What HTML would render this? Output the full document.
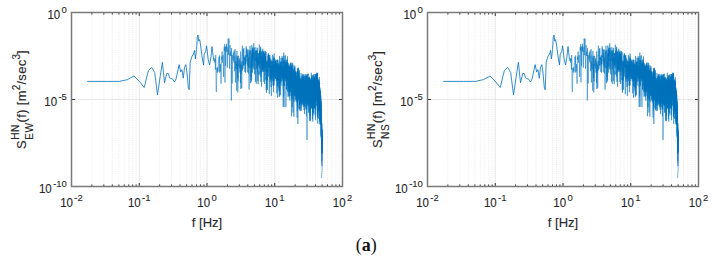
<!DOCTYPE html>
<html><head><meta charset="utf-8"><style>
html,body{margin:0;padding:0;background:#fff;width:712px;height:259px;overflow:hidden}
svg{display:block;position:absolute;left:0;top:0}
text{font-family:"Liberation Sans",sans-serif;fill:#262626;stroke:#262626;stroke-width:0.1px}
.tl{font-size:12.5px}
.ts{font-size:9.5px}
.lb{font-size:13.0px}
.gm{stroke:#d4d4d4;stroke-width:0.5;stroke-dasharray:1 1.2;fill:none}
.gM{stroke:#e0e0e0;stroke-width:0.8;fill:none}
.tk{stroke:#303030;stroke-width:1;fill:none}
.ax{fill:none;stroke:#7a7a7a;stroke-width:1.5}
</style></head><body>
<svg width="712" height="259" viewBox="0 0 712 259">
<defs><g id="curve" fill="none" stroke="#0072bd" stroke-linejoin="round"><polyline points="87.20,81.4 107.60,81.4 119.50,81.4 127.50,79.6 134.00,76.0 139.90,82.0 144.20,87.5 148.30,70.8 151.60,67.4 154.70,72.4 157.50,95.0 160.20,76.4 162.40,62.3 164.50,82.8 166.70,73.5 168.30,73.5 169.60,77.9 170.90,78.5 172.50,79.0 174.50,82.0 176.00,79.0 177.60,72.0 179.10,64.6 180.70,72.0 181.90,69.7 183.30,78.2 184.50,67.4 185.80,64.6 186.90,72.0 188.40,88.2 189.20,89.8 190.20,62.0 191.90,56.6 192.90,55.0 193.90,52.7 194.50,50.4 195.40,58.9 196.50,49.6 197.30,37.3 198.00,35.0 198.80,41.1 199.60,39.6 200.40,43.5 201.90,55.8 203.50,65.0 204.20,54.3 205.80,51.2 206.50,45.8 207.30,51.2 208.10,58.9 209.60,65.0 210.80,58.0 212.00,46.5 213.50,59.0" stroke-width="0.8"/><polyline points="213.50,59.0 213.86,61.0 214.25,58.1 214.64,62.4 215.03,58.8 215.41,69.7 215.78,55.0 216.15,91.2 216.52,92.0 216.88,67.9 217.23,72.7 217.59,67.3 217.93,71.4 218.28,63.0 218.62,61.4 218.96,56.8 219.29,72.6 219.62,55.5 219.94,66.1 220.26,71.5 220.58,64.1 220.90,82.4 221.21,83.8 221.52,56.6 221.82,59.7 222.12,51.5 222.42,62.7 222.72,61.6 223.01,55.1 223.30,60.8 223.59,76.9 223.87,57.0 224.15,47.3 224.43,50.5 224.71,44.1 224.98,82.5 225.25,46.8 225.52,65.8 225.79,62.8 226.05,46.2 226.31,51.8 226.57,43.9 226.83,49.4 227.08,47.2 227.34,67.6 227.59,49.9 227.83,51.4 228.08,39.2 228.33,38.4 228.57,55.2 228.81,46.5 229.05,38.6 229.28,59.8 229.52,68.8 229.75,52.7 229.98,47.4 230.21,45.1 230.44,55.7 230.66,51.5 230.89,56.0 231.11,54.9 231.33,100.5 231.55,48.2 231.76,56.5 231.98,57.0 232.19,83.5 232.41,55.4 232.62,55.5 232.83,55.5 233.03,60.3 233.24,53.6 233.45,52.6 233.65,57.9 233.85,62.5 234.05,50.6 234.25,57.6 234.45,56.8 234.65,71.2 234.84,65.2 235.04,49.2 235.23,57.0 235.42,82.6 235.61,61.6 235.80,69.1 235.99,55.5 236.18,65.0 236.36,63.9 236.55,70.0 236.73,90.6 236.91,51.0 237.09,69.4 237.27,58.1 237.45,78.0 237.63,55.9 237.81,92.4 237.98,64.6 238.16,81.4 238.33,76.0 238.50,59.7 238.67,55.8 238.84,66.0 239.01,60.2 239.18,62.3 239.35,68.5 239.52,58.4 239.68,59.7 239.85,72.4 240.01,66.6 240.17,63.1 240.34,63.0 240.50,82.9 240.66,51.4 240.82,89.0 240.98,61.3 241.13,61.9 241.29,73.2 241.45,66.6 241.60,64.7 241.76,88.2 241.91,58.7 242.06,55.7 242.22,56.0 242.37,45.7 242.52,70.5 242.67,69.6 242.82,61.1 242.96,68.7 243.11,61.5 243.26,49.3 243.40,54.8 243.55,65.3 243.69,63.6 243.84,48.0 243.98,65.9 244.12,60.4 244.27,56.6 244.41,59.7 244.55,59.9 244.69,57.6 244.83,71.9 244.96,65.2 245.10,59.0 245.24,64.3 245.38,55.4 245.51,72.7 245.65,60.6 245.78,64.1 245.92,55.5 246.05,61.6 246.18,46.3 246.31,56.8 246.45,48.6 246.58,52.0 246.71,55.0 246.84,54.6 246.97,60.0 247.10,64.5 247.22,66.1 247.35,72.4 247.48,49.7 247.60,59.8 247.73,65.4 247.86,54.2 247.98,60.9 248.11,56.9 248.23,49.5 248.35,67.4 248.48,57.1 248.60,73.6 248.72,62.8 248.84,59.6 248.96,65.8 249.08,89.6 249.20,64.1 249.32,51.7 249.44,53.9 249.56,60.8 249.68,68.1 249.79,50.3 249.91,53.9 250.03,45.8 250.14,61.8 250.26,50.2 250.37,78.2 250.49,79.9 250.60,83.2 250.72,78.0 250.83,62.0 250.94,77.0 251.06,52.5 251.17,81.8 251.28,61.0 251.39,67.5 251.50,54.7 251.61,80.3 251.72,57.8 251.83,45.3 251.94,52.4 252.05,60.7 252.16,49.6 252.27,55.8 252.37,66.4 252.48,48.9 252.59,72.6 252.69,49.4 252.80,47.7 252.91,53.0 253.01,60.8 253.12,47.6 253.22,68.9 253.33,58.8 253.43,50.3 253.53,55.8 253.64,56.9 253.74,43.3 253.84,57.4 253.94,66.4 254.04,58.9 254.15,52.4 254.25,69.7 254.35,52.4 254.45,47.6 254.55,56.7 254.65,74.2 254.75,65.0 254.84,61.7 254.94,57.9 255.04,60.4 255.14,50.6 255.24,55.7 255.33,65.5 255.43,81.8 255.53,63.9 255.62,63.8 255.72,51.0 255.82,61.3 255.91,47.2 256.01,54.5 256.10,52.8 256.20,50.4 256.29,83.9 256.38,54.5 256.48,68.9 256.57,54.8 256.66,50.4 256.76,58.5 256.85,62.4 256.94,51.5 257.03,58.2 257.12,65.0 257.22,60.0 257.31,57.8 257.40,71.5 257.49,54.6 257.58,47.9 257.67,61.4 257.76,81.1 257.85,53.2 257.93,67.0 258.02,74.6 258.11,71.3 258.20,84.1 258.29,61.5 258.38,57.5 258.46,65.6 258.55,53.2 258.64,57.4 258.72,63.2 258.81,58.4 258.90,53.5 258.98,64.0 259.07,59.7 259.15,68.2 259.24,64.4 259.32,44.6 259.41,56.8 259.49,58.8 259.58,50.6 259.66,74.5 259.74,53.0 259.83,51.5 259.91,66.8 259.99,55.1 260.08,52.7 260.16,51.9 260.24,57.3 260.32,76.6 260.41,74.6 260.49,48.5 260.57,53.8 260.65,46.8 260.73,58.6 260.81,54.0 260.89,81.8 260.97,56.2 261.05,64.8 261.13,60.5 261.21,73.4 261.29,51.2 261.37,59.6 261.45,61.5 261.53,63.6 261.61,86.6 261.69,52.2 261.76,63.9 261.84,67.4 261.92,67.8 262.00,56.1 262.07,64.8 262.15,70.1 262.23,50.5 262.31,64.0 262.38,72.0 262.46,58.1 262.53,57.6 262.61,65.9 262.69,70.1 262.76,48.7 262.84,69.3 262.91,67.1 262.99,52.6 263.06,67.8 263.14,69.8 263.21,55.4 263.28,63.8 263.36,61.7 263.43,67.4 263.51,52.1 263.58,72.0 263.65,51.6 263.73,67.0 263.80,64.5 263.87,82.0 263.94,51.7 264.02,52.4 264.09,50.7 264.16,65.1 264.23,69.4 264.30,52.8 264.38,62.6 264.45,53.5 264.52,62.7 264.59,62.3 264.66,84.0 264.73,54.2 264.80,65.0 264.87,75.6 264.94,56.5 265.01,61.0 265.08,64.7 265.15,53.4 265.22,65.1 265.29,58.8 265.36,67.6 265.43,56.2 265.50,51.0 265.57,63.6 265.63,71.5 265.70,59.9 265.77,66.4 265.84,79.2 265.91,78.0 265.97,80.1 266.04,63.3 266.11,52.1 266.18,63.1 266.24,90.1 266.31,68.7 266.38,60.9 266.44,70.9 266.51,92.9 266.58,75.9 266.64,75.8 266.71,80.8 266.77,76.5 266.84,62.3 266.91,66.5 266.97,71.4 267.04,62.8 267.10,62.1 267.17,72.5 267.23,69.0 267.30,76.1 267.36,80.2 267.43,71.6 267.49,89.7 267.55,62.1 267.62,75.7 267.68,63.4 267.75,60.4 267.81,64.5 267.87,55.4 267.94,63.9 268.00,63.7 268.06,73.4 268.13,60.9 268.19,53.4 268.25,54.1 268.31,76.7 268.38,55.8 268.44,57.8 268.50,55.1 268.56,53.5 268.62,59.5 268.69,61.3 268.75,55.2 268.81,57.8 268.87,67.1 268.93,58.3 268.99,66.9 269.05,58.8 269.11,63.5 269.18,68.0 269.24,66.8 269.30,94.1 269.36,55.3 269.42,63.9 269.48,67.4 269.54,65.1 269.60,59.6 269.66,63.8 269.72,68.4 269.78,60.9 269.84,62.2 269.89,55.2 269.95,79.7 270.01,69.6 270.07,70.6 270.13,68.0 270.19,81.9 270.25,58.0 270.31,65.0 270.36,76.5 270.42,70.4 270.48,73.7 270.54,67.3 270.60,60.3 270.65,60.2 270.71,78.3 270.77,64.7 270.83,75.5 270.88,78.3 270.94,65.8 271.00,87.0 271.06,73.3 271.11,62.0 271.17,73.1 271.23,73.5 271.28,76.6 271.34,95.9 271.40,68.5 271.45,65.6 271.51,66.8 271.56,79.6 271.62,79.2 271.68,61.4 271.73,78.4 271.79,70.9 271.84,63.0 271.90,59.5 271.95,70.2 272.01,78.7 272.06,61.0 272.12,77.2 272.17,71.4 272.23,68.3 272.28,81.0 272.34,67.9 272.39,54.9 272.45,75.8 272.50,73.9 272.55,68.1 272.61,62.7 272.66,65.5 272.72,75.4 272.77,69.9 272.82,65.7 272.88,85.4 272.93,85.0 272.98,70.5 273.04,66.9 273.09,69.2 273.14,71.4 273.20,70.3 273.25,67.0 273.30,65.8 273.35,64.3 273.41,72.2 273.46,92.2 273.51,62.9 273.56,61.8 273.62,67.5 273.67,61.5 273.72,85.7 273.77,56.5 273.82,63.1 273.88,57.9 273.93,85.2 273.98,71.7 274.03,68.8 274.08,53.5 274.13,66.4 274.18,81.1 274.24,62.2 274.29,64.8 274.34,74.1 274.39,60.3 274.44,58.2 274.49,69.2 274.54,77.7 274.59,61.8 274.64,64.0 274.69,70.2 274.74,76.2 274.79,70.1 274.84,63.9 274.89,67.3 274.94,68.4 274.99,62.1 275.04,59.2 275.09,65.1 275.14,73.1 275.19,61.0 275.24,69.4 275.29,66.4 275.34,68.5 275.39,79.0 275.44,70.2 275.49,60.8 275.53,79.1 275.58,75.9 275.63,61.6 275.68,65.5 275.73,61.9 275.78,61.6 275.83,78.9 275.87,77.1 275.92,67.8 275.97,69.5 276.02,63.3 276.07,74.5 276.11,69.9 276.16,60.0 276.21,81.4 276.26,67.1 276.31,65.7 276.35,72.3 276.40,66.2 276.45,67.2 276.50,74.7 276.54,63.2 276.59,79.1 276.64,73.7 276.68,93.3 276.73,75.4 276.78,64.9 276.83,66.6 276.87,74.3 276.92,63.6 276.97,67.2 277.01,59.9 277.06,68.0 277.10,74.2 277.15,67.1 277.20,79.9 277.24,78.3 277.29,70.2 277.34,59.5 277.38,86.3 277.43,71.6 277.47,69.4 277.52,72.0 277.56,77.3 277.61,79.6 277.66,97.7 277.70,62.2 277.75,65.0 277.79,81.0 277.84,74.7 277.88,76.9 277.93,78.3 277.97,86.2 278.02,60.0 278.06,76.3 278.11,68.7 278.15,75.9 278.20,71.8 278.24,63.5 278.29,73.3 278.33,63.8 278.37,80.6 278.42,68.8 278.46,64.3 278.51,68.2 278.55,80.4 278.60,77.3 278.64,80.2 278.68,71.3 278.73,75.5 278.77,81.4 278.81,87.7 278.86,80.0 278.90,74.1 278.95,68.3 278.99,70.8 279.03,68.8 279.08,64.9 279.12,70.4 279.16,91.6 279.21,75.8 279.25,89.8 279.29,72.6 279.33,96.8 279.38,74.2 279.42,72.6 279.46,69.1 279.51,71.7 279.55,56.0 279.59,75.7 279.63,65.5 279.68,75.9 279.72,75.7 279.76,70.0 279.80,96.1 279.85,65.3 279.89,71.9 279.93,66.4 279.97,84.2 280.01,61.3 280.06,62.9 280.10,64.3 280.14,72.4 280.18,65.3 280.22,71.7 280.26,62.5 280.31,94.8 280.35,70.8 280.39,61.9 280.43,64.9 280.47,64.5 280.51,65.1 280.55,69.6 280.60,80.4 280.64,67.2 280.68,74.8 280.72,73.2 280.76,71.9 280.80,70.9 280.84,80.8 280.88,65.7 280.92,69.1 280.96,62.6 281.00,57.9 281.05,65.1 281.09,69.7 281.13,85.8 281.17,70.9 281.21,69.0 281.25,68.2 281.29,70.1 281.33,75.3 281.37,63.9 281.41,69.2 281.45,63.0 281.49,77.2 281.53,67.6 281.57,61.7 281.61,61.7 281.65,81.8 281.69,70.8 281.73,73.1 281.77,61.6 281.81,66.7 281.84,76.0 281.88,70.1 281.92,74.3 281.96,69.5 282.00,73.6 282.04,68.0 282.08,61.4 282.12,55.9 282.16,63.8 282.20,57.8 282.24,64.7 282.28,64.2 282.31,66.1 282.35,70.2 282.39,80.5 282.43,71.5 282.47,66.6 282.51,78.8 282.55,69.7 282.58,70.8 282.62,70.7 282.66,69.3 282.70,65.1 282.74,72.4 282.78,70.8 282.81,78.5 282.85,73.0 282.89,77.5 282.93,66.2 282.97,57.9 283.00,75.6 283.04,66.0 283.08,69.0 283.12,94.4 283.16,107.1 283.19,76.7 283.23,71.6 283.27,86.8 283.31,81.1 283.34,79.9 283.38,81.1 283.42,86.0 283.46,72.9 283.49,65.8 283.53,65.0 283.57,76.8 283.61,68.9 283.64,67.2 283.68,96.7 283.72,60.6 283.75,74.8 283.79,83.2 283.83,52.6 283.86,79.1 283.90,70.9 283.94,75.5 283.97,61.0 284.01,70.8 284.05,86.8 284.08,106.8 284.12,73.7 284.16,55.8 284.19,80.3 284.23,59.8 284.27,77.8 284.30,70.4 284.34,66.7 284.38,70.0 284.41,75.1 284.45,66.5 284.48,74.4 284.52,65.6 284.56,86.0 284.59,81.6 284.63,70.4 284.66,70.5 284.70,63.2 284.73,72.8 284.77,69.3 284.81,70.5 284.84,66.1 284.88,66.2 284.91,70.2 284.95,63.6 284.98,60.1 285.02,76.6 285.05,75.9 285.09,76.4 285.13,77.2 285.16,76.7 285.20,69.9 285.23,64.8 285.27,77.2 285.30,67.3 285.34,74.6 285.37,55.3 285.41,68.8 285.44,65.4 285.48,81.3 285.51,78.8 285.55,68.3 285.58,77.7 285.62,70.7 285.65,61.9 285.68,77.5 285.72,78.9 285.75,69.1 285.79,72.9 285.82,65.8 285.86,71.9 285.89,82.3 285.93,107.1 285.96,68.1 285.99,77.9 286.03,70.0 286.06,78.6 286.10,68.3 286.13,63.7 286.17,63.6 286.20,62.4 286.23,71.6 286.27,64.4 286.30,68.8 286.34,73.9 286.37,76.0 286.40,79.7 286.44,64.3 286.47,71.5 286.50,79.1 286.54,73.1 286.57,59.7 286.60,89.2 286.64,88.6 286.67,62.2 286.71,89.9 286.74,62.6 286.77,77.8 286.81,69.1 286.84,63.2 286.87,63.3 286.91,66.6 286.94,72.7 286.97,75.1 287.00,75.0 287.04,62.1 287.07,70.1 287.10,64.4 287.14,76.2 287.17,70.4 287.20,76.6 287.24,59.5 287.27,86.0 287.30,69.0 287.33,66.5 287.37,81.8 287.40,66.8 287.43,69.9 287.46,56.4 287.50,63.3 287.53,74.6 287.56,67.1 287.59,71.0 287.63,78.7 287.66,69.3 287.69,70.5 287.72,63.8 287.76,91.9 287.79,91.1 287.82,82.5 287.85,69.7 287.88,67.0 287.92,75.9 287.95,72.8 287.98,74.6 288.01,96.8 288.05,83.6 288.08,68.3 288.11,68.7 288.14,66.7 288.17,69.8 288.20,72.7 288.24,72.2 288.27,91.2 288.30,62.9 288.33,76.4 288.36,68.1 288.39,69.2 288.43,70.4 288.46,65.5 288.49,76.4 288.52,68.2 288.55,71.6 288.58,89.3 288.61,81.5 288.65,88.9 288.68,95.6 288.71,71.5 288.74,68.1 288.77,77.7 288.80,77.8 288.83,89.8 288.86,72.4 288.90,85.0 288.93,70.4 288.96,70.1 288.99,71.6 289.02,69.3 289.05,87.1 289.08,66.4 289.11,73.7 289.14,70.2 289.17,69.7 289.20,84.2 289.23,64.5 289.27,75.2 289.30,76.5 289.33,97.4 289.36,85.3 289.39,76.0 289.42,66.2 289.45,66.7 289.48,78.1 289.51,91.6 289.54,92.9 289.57,67.1 289.60,76.0 289.63,90.3 289.66,68.1 289.69,74.1 289.72,72.6 289.75,72.0 289.78,75.7 289.81,83.3 289.84,100.8 289.87,94.8 289.90,87.8 289.93,74.5 289.96,86.1 289.99,72.5 290.02,71.8 290.05,68.2 290.08,68.1 290.11,88.9 290.14,79.9 290.17,96.0 290.20,74.5 290.23,69.8 290.26,64.0 290.29,76.1 290.32,92.2 290.35,87.9 290.38,78.7 290.41,81.3 290.44,82.7 290.47,73.3 290.50,87.5 290.53,79.1 290.55,62.8 290.58,78.6 290.61,86.9 290.64,68.3 290.67,88.8 290.70,82.2 290.73,82.0 290.76,91.9 290.79,74.5 290.82,72.6 290.85,80.6 290.88,62.7 290.90,70.3 290.93,75.2 290.96,69.7 290.99,75.2 291.02,85.2 291.05,79.8 291.08,75.0 291.11,65.9 291.14,73.1 291.16,79.3 291.19,75.3 291.22,73.0 291.25,75.7 291.28,69.2 291.31,77.3 291.34,80.4 291.36,77.7 291.39,68.2 291.42,72.2 291.45,73.6 291.48,116.2 291.51,87.5 291.54,65.3 291.56,87.4 291.59,74.8 291.62,73.2 291.65,76.4 291.68,68.9 291.71,75.4 291.73,81.5 291.76,75.8 291.79,80.4 291.82,71.0 291.85,82.5 291.87,98.7 291.90,69.9 291.93,72.9 291.96,71.0 291.99,62.6 292.01,79.3 292.04,72.8 292.07,75.4 292.10,107.1 292.13,78.7 292.15,98.3 292.18,76.5 292.21,88.9 292.24,90.2 292.26,67.1 292.29,81.1 292.32,79.8 292.35,74.4 292.37,87.2 292.40,85.2 292.43,73.9 292.46,75.3 292.48,83.7 292.51,65.4 292.54,82.6 292.57,85.7 292.59,74.2 292.62,84.8 292.65,68.5 292.68,74.9 292.70,84.9 292.73,63.2 292.76,81.5 292.79,78.0 292.81,75.1 292.84,74.9 292.87,74.4 292.89,93.9 292.92,77.3 292.95,112.5 292.98,80.2 293.00,79.0 293.03,73.6 293.06,86.3 293.08,75.6 293.11,82.2 293.14,77.3 293.16,88.1 293.19,70.7 293.22,71.1 293.24,100.0 293.27,80.7 293.30,81.7 293.32,93.8 293.35,80.7 293.38,93.0 293.40,77.1 293.43,72.8 293.46,84.9 293.48,73.6 293.51,70.1 293.54,86.4 293.56,71.4 293.59,71.3 293.62,70.2 293.64,79.6 293.67,77.4 293.70,88.2 293.72,73.1 293.75,74.0 293.77,76.6 293.80,79.7 293.83,86.4 293.85,116.8 293.88,85.3 293.91,81.0 293.93,88.4 293.96,65.3 293.98,85.8 294.01,89.8 294.04,67.9 294.06,102.0 294.09,71.3 294.11,71.0 294.14,80.6 294.17,95.9 294.19,85.6 294.22,78.6 294.24,73.4 294.27,75.5 294.30,76.3 294.32,83.8 294.35,72.1 294.37,91.1 294.40,86.7 294.42,78.4 294.45,74.1 294.48,76.2 294.50,75.9 294.53,84.5 294.55,72.7 294.58,86.5 294.60,95.9 294.63,92.1 294.66,76.6 294.68,74.0 294.71,90.9 294.73,80.2 294.76,67.8 294.78,77.6 294.81,70.1 294.83,72.5 294.86,71.8 294.88,82.9 294.91,77.2 294.93,66.1 294.96,87.9 294.99,71.4 295.01,85.7 295.04,79.7 295.06,75.5 295.09,83.8 295.11,82.3 295.14,93.5 295.16,81.4 295.19,95.8 295.21,77.1 295.24,79.4 295.26,72.6 295.29,82.6 295.31,72.8 295.34,72.2 295.36,71.8 295.39,74.7 295.41,77.0 295.44,78.3 295.46,84.9 295.49,81.0 295.51,85.7 295.54,72.2 295.56,99.4 295.58,87.8 295.61,83.3 295.63,95.4 295.66,80.0 295.68,91.7 295.71,82.6 295.73,85.2 295.76,80.9 295.78,100.5 295.81,83.0 295.83,75.6 295.86,79.2 295.88,85.7 295.90,85.2 295.93,84.2 295.95,87.7 295.98,94.3 296.00,85.7 296.03,86.3 296.05,72.8 296.08,81.9 296.10,72.0 296.12,86.2 296.15,83.0 296.17,85.7 296.20,94.5 296.22,96.0 296.25,88.6 296.27,79.0 296.29,97.7 296.32,102.1 296.34,86.6 296.37,92.4 296.39,93.1 296.41,75.8 296.44,86.9 296.46,82.2 296.49,87.2 296.51,80.8 296.53,87.4 296.56,88.2 296.58,81.6 296.61,87.5 296.63,77.8 296.65,93.9 296.68,76.7 296.70,99.3 296.72,90.9 296.75,86.1 296.77,99.8 296.80,93.0 296.82,81.7 296.84,89.5 296.87,94.8 296.89,81.7 296.91,86.6 296.94,83.0 296.96,77.4 296.99,87.5 297.01,84.8 297.03,71.1 297.06,117.6 297.08,85.9 297.10,95.6 297.13,84.2 297.15,96.0 297.17,92.0 297.20,103.2 297.22,82.2 297.24,87.7 297.27,90.5 297.29,99.2 297.31,79.5 297.34,110.9 297.36,80.3 297.38,85.0 297.41,93.1 297.43,87.4 297.45,106.2 297.48,78.5 297.50,103.2 297.52,85.9 297.55,73.8 297.57,84.1 297.59,78.6 297.61,79.0 297.64,87.3 297.66,85.0 297.68,69.0 297.71,74.0 297.73,76.2 297.75,80.2 297.78,89.8 297.80,96.2 297.82,76.1 297.84,86.5 297.87,83.4 297.89,124.0 297.91,103.3 297.94,80.1 297.96,90.9 297.98,68.4 298.00,70.1 298.03,83.7 298.05,73.1 298.07,90.1 298.10,73.1 298.12,68.0 298.14,76.4 298.16,67.6 298.19,81.8 298.21,83.7 298.23,76.2 298.25,81.3 298.28,76.8 298.30,80.2 298.32,90.2 298.34,97.1 298.37,74.1 298.39,88.5 298.41,77.3 298.43,78.7 298.46,86.3 298.48,100.7 298.50,79.9 298.52,73.1 298.55,80.9 298.57,73.7 298.59,86.1 298.61,83.5 298.64,76.5 298.66,91.6 298.68,90.9 298.70,73.4 298.72,91.1 298.75,85.7 298.77,73.5 298.79,78.0 298.81,77.3 298.84,71.5 298.86,75.4 298.88,70.2 298.90,72.9 298.92,84.2 298.95,108.3 298.97,88.4 298.99,99.6 299.01,79.7 299.03,88.8 299.06,94.2 299.08,81.9 299.10,98.7 299.12,91.1 299.14,70.2 299.17,84.9 299.19,98.9 299.21,76.8 299.23,81.7 299.25,81.5 299.27,88.9 299.30,90.3 299.32,93.1 299.34,98.6 299.36,78.8 299.38,92.8 299.41,80.5 299.43,84.9 299.45,89.2 299.47,110.1 299.49,80.0 299.51,86.9 299.54,86.9 299.56,83.0 299.58,78.3 299.60,81.2 299.62,104.9 299.64,96.4 299.66,78.9 299.69,81.4 299.71,89.5 299.73,89.8 299.75,95.3 299.77,76.5 299.79,99.6 299.82,80.2 299.84,86.0 299.86,92.5 299.88,97.9 299.90,79.1 299.92,83.9 299.94,78.5 299.96,80.6 299.99,96.4 300.01,90.7 300.03,109.0 300.05,79.1 300.07,84.0 300.09,93.7 300.11,86.6 300.13,99.2 300.16,91.7 300.18,85.9 300.20,81.6 300.22,91.6 300.24,90.4 300.26,92.6 300.28,84.1 300.30,111.1 300.32,92.7 300.35,93.1 300.37,83.2 300.39,101.7 300.41,81.9 300.43,82.9 300.45,81.1 300.47,96.9 300.49,96.5 300.51,87.6 300.53,94.2 300.56,93.5 300.58,88.3 300.60,87.1 300.62,86.8 300.64,90.6 300.66,94.2 300.68,98.5 300.70,89.2 300.72,91.3 300.74,90.5 300.76,83.0 300.78,95.6 300.80,78.3 300.83,91.7 300.85,81.5 300.87,92.7 300.89,86.1 300.91,90.6 300.93,104.5 300.95,86.1 300.97,102.0 300.99,92.1 301.01,82.7 301.03,73.0 301.05,94.8 301.07,94.8 301.09,82.3 301.11,84.7 301.13,84.3 301.15,100.5 301.18,105.5 301.20,88.7 301.22,83.7 301.24,87.8 301.26,88.6 301.28,85.3 301.30,83.0 301.32,91.9 301.34,93.3 301.36,91.7 301.38,92.8 301.40,82.8 301.42,84.2 301.44,110.7 301.46,94.1 301.48,102.3 301.50,89.8 301.52,91.7 301.54,95.1 301.56,83.3 301.58,91.9 301.60,86.4 301.62,90.0 301.64,83.3 301.66,83.6 301.68,90.5 301.70,84.8 301.72,86.8 301.74,78.4 301.76,95.5 301.78,86.5 301.80,88.3 301.82,89.8 301.84,75.5 301.86,85.7 301.88,80.6 301.90,80.2 301.92,85.8 301.94,85.5 301.96,95.6 301.98,94.3 302.00,87.3 302.02,81.6 302.04,77.0 302.06,101.3 302.08,84.5 302.10,81.2 302.12,93.5 302.14,95.3 302.16,105.3 302.18,83.6 302.20,88.5 302.22,85.0 302.24,95.7 302.26,87.7 302.28,81.3 302.30,87.8 302.32,82.7 302.34,80.1 302.36,86.8 302.38,84.0 302.40,81.2 302.42,81.7 302.44,79.4 302.46,87.2 302.48,89.8 302.49,75.1 302.51,86.9 302.53,83.9 302.55,76.0 302.57,91.2 302.59,79.9 302.61,73.9 302.63,89.7 302.65,84.1 302.67,82.8 302.69,91.2 302.71,85.5 302.73,103.8 302.75,93.0 302.77,80.3 302.79,84.4 302.81,99.7 302.83,97.9 302.84,84.7 302.86,103.6 302.88,95.7 302.90,89.2 302.92,81.5 302.94,93.8 302.96,90.9 302.98,87.2 303.00,92.3 303.02,90.5 303.04,78.3 303.06,77.7 303.08,85.3 303.09,85.9 303.11,86.3 303.13,79.4 303.15,91.0 303.17,81.2 303.19,82.4 303.21,77.3 303.23,81.6 303.25,91.5 303.27,85.3 303.29,85.5 303.30,96.5 303.32,92.0 303.34,100.3 303.36,106.9 303.38,83.7 303.40,102.0 303.42,87.2 303.44,94.5 303.46,81.2 303.48,85.5 303.49,85.2 303.51,83.0 303.53,88.2 303.55,101.1 303.57,88.9 303.59,86.1 303.61,89.6 303.63,86.9 303.64,102.4 303.66,87.3 303.68,76.1 303.70,98.0 303.72,97.7 303.74,73.9 303.76,83.9 303.78,77.6 303.79,80.8 303.81,105.6 303.83,79.4 303.85,87.4 303.87,95.9 303.89,84.3 303.91,86.3 303.93,85.4 303.94,102.1 303.96,75.9 303.98,90.4 304.00,82.4 304.02,109.9 304.04,102.3 304.06,85.1 304.07,83.4 304.09,95.5 304.11,84.0 304.13,95.5 304.15,94.3 304.17,95.7 304.19,99.8 304.20,105.2 304.22,88.9 304.24,82.0 304.26,84.4 304.28,75.5 304.30,91.3 304.31,86.4 304.33,97.1 304.35,88.8 304.37,82.6 304.39,87.2 304.41,97.9 304.42,99.8 304.44,94.9 304.46,101.2 304.48,102.7 304.50,88.2 304.52,103.9 304.53,97.4 304.55,86.5 304.57,114.1 304.59,85.2 304.61,100.2 304.62,105.3 304.64,92.5 304.66,94.4 304.68,92.5 304.70,80.4 304.72,89.2 304.73,94.0 304.75,86.7 304.77,87.8 304.79,100.1 304.81,94.4 304.82,95.8 304.84,103.5 304.86,90.4 304.88,95.9 304.90,91.5 304.91,89.3 304.93,96.1 304.95,80.3 304.97,88.7 304.99,91.6 305.00,89.2 305.02,80.8 305.04,100.6 305.06,84.4 305.08,85.9 305.09,103.6 305.11,92.1 305.13,96.6 305.15,94.0 305.17,83.4 305.18,82.6 305.20,90.2 305.22,96.0 305.24,83.7 305.25,102.2 305.27,107.1 305.29,90.9 305.31,91.0 305.33,88.5 305.34,90.1 305.36,74.2 305.38,98.1 305.40,93.7 305.41,96.9 305.43,83.4 305.45,97.6 305.47,102.7 305.49,91.7 305.50,93.0 305.52,84.9 305.54,81.5 305.56,85.3 305.57,90.7 305.59,93.4 305.61,84.3 305.63,90.0 305.64,84.5 305.66,75.9 305.68,87.0 305.70,79.8 305.71,83.0 305.73,93.2 305.75,78.6 305.77,82.0 305.78,97.2 305.80,85.0 305.82,75.7 305.84,80.7 305.85,81.8 305.87,91.4 305.89,87.6 305.91,84.0 305.92,94.4 305.94,109.4 305.96,76.9 305.98,93.8 305.99,76.9 306.01,89.1 306.03,96.3 306.04,99.2 306.06,80.1 306.08,90.4 306.10,102.6 306.11,84.5 306.13,87.6 306.15,93.5 306.17,94.0 306.18,94.0 306.20,87.5 306.22,92.2 306.23,99.7 306.25,80.4 306.27,78.3 306.29,89.0 306.30,87.4 306.32,80.4 306.34,93.8 306.36,84.7 306.37,78.9 306.39,89.6 306.41,116.3 306.42,100.5 306.44,94.4 306.46,87.7 306.47,109.1 306.49,105.0 306.51,84.3 306.53,82.7 306.54,88.8 306.56,79.4 306.58,79.7 306.59,80.3 306.61,101.1 306.63,75.5 306.65,103.9 306.66,90.4 306.68,85.0 306.70,89.3 306.71,82.6 306.73,89.8 306.75,100.9 306.76,88.2 306.78,74.6 306.80,109.2 306.81,82.6 306.83,99.2 306.85,94.9 306.87,92.9 306.88,81.9 306.90,87.3 306.92,86.5 306.93,103.7 306.95,81.5 306.97,89.8 306.98,91.7 307.00,140.0 307.02,80.8 307.03,87.0 307.05,81.8 307.07,100.2 307.08,88.8 307.10,85.9 307.12,91.0 307.13,93.6 307.15,88.4 307.17,100.0 307.18,88.3 307.20,79.4 307.22,83.3 307.23,85.2 307.25,92.6 307.27,74.5 307.28,86.6 307.30,98.3 307.32,73.9 307.33,74.3 307.35,86.5 307.37,82.4 307.38,83.8 307.40,85.7 307.42,81.2 307.43,93.2 307.45,93.1 307.47,97.0 307.48,83.9 307.50,87.1 307.52,89.5 307.53,81.8 307.55,93.5 307.56,90.2 307.58,85.2 307.60,76.7 307.61,83.5 307.63,87.8 307.65,83.8 307.66,83.7 307.68,81.7 307.70,89.1 307.71,105.1 307.73,83.6 307.74,92.8 307.76,88.7 307.78,95.6 307.79,87.0 307.81,103.7 307.83,91.3 307.84,83.5 307.86,90.8 307.88,91.6 307.89,80.0 307.91,90.1 307.92,91.0 307.94,98.7 307.96,86.2 307.97,81.7 307.99,86.3 308.01,92.7 308.02,84.7 308.04,88.4 308.05,91.8 308.07,99.3 308.09,85.4 308.10,88.4 308.12,79.9 308.13,94.6 308.15,87.8 308.17,85.2 308.18,93.3 308.20,91.5 308.22,91.0 308.23,85.6 308.25,78.0 308.26,84.8 308.28,105.6 308.30,97.4 308.31,89.1 308.33,83.4 308.34,87.0 308.36,84.0 308.38,95.8 308.39,73.6 308.41,91.1 308.42,106.2 308.44,88.4 308.46,77.1 308.47,97.9 308.49,84.2 308.50,85.2 308.52,78.4 308.54,86.2 308.55,82.4 308.57,86.3 308.58,85.0 308.60,97.5 308.62,99.9 308.63,86.8 308.65,88.7 308.66,87.5 308.68,80.2 308.69,102.5 308.71,89.0 308.73,80.8 308.74,98.0 308.76,112.9 308.77,84.0 308.79,85.3 308.81,106.3 308.82,80.8 308.84,93.1 308.85,91.8 308.87,85.2 308.88,83.0 308.90,98.5 308.92,86.8 308.93,89.5 308.95,79.2 308.96,95.9 308.98,79.3 308.99,112.2 309.01,84.3 309.03,83.8 309.04,79.9 309.06,81.6 309.07,105.5 309.09,94.6 309.10,80.6 309.12,86.7 309.13,89.9 309.15,79.1 309.17,85.1 309.18,100.9 309.20,88.1 309.21,92.4 309.23,98.8 309.24,90.9 309.26,92.8 309.27,89.0 309.29,89.6 309.31,91.9 309.32,93.2 309.34,88.9 309.35,90.4 309.37,89.0 309.38,89.3 309.40,97.2 309.41,87.3 309.43,100.1 309.44,84.9 309.46,77.9 309.48,89.8 309.49,88.3 309.51,76.8 309.52,91.1 309.54,101.6 309.55,87.2 309.57,99.3 309.58,85.3 309.60,103.5 309.61,89.4 309.63,88.0 309.64,82.3 309.66,87.1 309.68,102.0 309.69,88.5 309.71,89.5 309.72,80.1 309.74,93.8 309.75,92.3 309.77,86.9 309.78,92.2 309.80,100.7 309.81,97.2 309.83,89.2 309.84,90.4 309.86,99.7 309.87,92.2 309.89,89.7 309.90,121.2 309.92,108.4 309.93,119.7 309.95,112.0 309.97,88.6 309.98,89.3 310.00,115.0 310.01,85.3 310.03,83.5 310.04,90.2 310.06,87.5 310.07,87.4 310.09,96.1 310.10,80.5 310.12,99.6 310.13,94.1 310.15,85.0 310.16,96.4 310.18,79.6 310.19,80.1 310.21,121.1 310.22,92.0 310.24,90.6 310.25,94.4 310.27,99.9 310.28,93.6 310.30,90.2 310.31,91.1 310.33,93.0 310.34,87.6 310.36,92.8 310.37,81.3 310.39,98.2 310.40,91.2 310.42,87.1 310.43,86.4 310.45,81.1 310.46,95.7 310.48,83.9 310.49,91.1 310.51,115.8 310.52,84.6 310.54,104.9 310.55,95.2 310.57,87.0 310.58,95.8 310.60,99.6 310.61,86.9 310.63,83.7 310.64,96.3 310.65,93.8 310.67,87.8 310.68,90.2 310.70,93.0 310.71,79.2 310.73,93.4 310.74,99.5 310.76,94.2 310.77,88.0 310.79,97.4 310.80,100.2 310.82,108.9 310.83,78.0 310.85,86.6 310.86,103.1 310.88,87.1 310.89,87.6 310.91,82.7 310.92,82.7 310.93,85.0 310.95,103.0 310.96,89.4 310.98,89.1 310.99,88.4 311.01,88.9 311.02,94.2 311.04,84.9 311.05,89.2 311.07,96.1 311.08,100.8 311.10,93.2 311.11,88.7 311.12,91.4 311.14,106.6 311.15,80.6 311.17,84.8 311.18,90.3 311.20,89.3 311.21,86.7 311.23,89.0 311.24,92.6 311.26,83.1 311.27,92.2 311.28,93.3 311.30,90.4 311.31,91.6 311.33,89.4 311.34,72.8 311.36,95.3 311.37,87.3 311.39,84.6 311.40,107.3 311.42,93.0 311.43,108.2 311.44,97.3 311.46,107.7 311.47,89.2 311.49,96.2 311.50,82.8 311.52,92.4 311.53,93.3 311.54,95.3 311.56,97.8 311.57,82.8 311.59,81.7 311.60,91.6 311.62,103.4 311.63,89.2 311.65,95.8 311.66,96.2 311.67,81.4 311.69,85.4 311.70,91.8 311.72,91.8 311.73,94.4 311.75,79.8 311.76,98.5 311.77,98.3 311.79,88.9 311.80,82.3 311.82,106.4 311.83,91.8 311.85,92.8 311.86,85.5 311.87,76.4 311.89,84.2 311.90,94.2 311.92,97.6 311.93,89.6 311.94,83.7 311.96,85.1 311.97,95.0 311.99,79.7 312.00,102.2 312.02,82.5 312.03,86.4 312.04,95.4 312.06,82.7 312.07,101.5 312.09,98.9 312.10,87.4 312.11,78.1 312.13,83.7 312.14,96.1 312.16,79.2 312.17,75.4 312.18,87.7 312.20,89.2 312.21,100.5 312.23,100.8 312.24,106.2 312.25,100.2 312.27,109.4 312.28,92.9 312.30,97.4 312.31,93.8 312.32,87.0 312.34,101.3 312.35,97.3 312.37,89.4 312.38,75.5 312.39,84.0 312.41,119.1 312.42,85.2 312.44,86.4 312.45,92.8 312.46,87.8 312.48,87.0 312.49,105.6 312.51,81.8 312.52,102.5 312.53,94.6 312.55,101.6 312.56,87.6 312.58,94.1 312.59,87.9 312.60,95.6 312.62,82.6 312.63,91.7 312.65,84.5 312.66,95.2 312.67,85.2 312.69,111.3 312.70,96.3 312.71,86.6 312.73,82.1 312.74,90.9 312.76,78.6 312.77,80.1 312.78,121.5 312.80,88.7 312.81,89.0 312.82,85.4 312.84,81.9 312.85,93.8 312.87,82.9 312.88,115.7 312.89,85.4 312.91,103.5 312.92,103.6 312.93,83.5 312.95,96.7 312.96,85.3 312.98,90.8 312.99,87.9 313.00,93.5 313.02,112.2 313.03,81.3 313.04,81.3 313.06,89.1 313.07,90.9 313.08,97.3 313.10,99.8 313.11,100.2 313.13,105.6 313.14,91.3 313.15,81.5 313.17,94.2 313.18,86.6 313.19,86.2 313.21,97.3 313.22,85.0 313.23,90.7 313.25,80.1 313.26,80.9 313.28,92.3 313.29,92.3 313.30,78.8 313.32,99.6 313.33,77.9 313.34,81.1 313.36,94.1 313.37,90.8 313.38,83.6 313.40,102.2 313.41,100.2 313.42,83.5 313.44,87.4 313.45,86.8 313.46,74.5 313.48,88.1 313.49,94.0 313.50,82.1 313.52,84.8 313.53,93.7 313.55,99.1 313.56,85.9 313.57,93.1 313.59,97.2 313.60,95.7 313.61,80.1 313.63,91.0 313.64,87.5 313.65,106.4 313.67,104.3 313.68,113.5 313.69,88.6 313.71,95.6 313.72,75.6 313.73,89.0 313.75,97.2 313.76,82.3 313.77,86.2 313.79,86.6 313.80,79.4 313.81,91.3 313.83,83.8 313.84,98.5 313.85,101.5 313.87,100.5 313.88,87.4 313.89,89.3 313.91,94.3 313.92,86.3 313.93,81.6 313.95,105.6 313.96,84.8 313.97,82.7 313.98,86.9 314.00,85.4 314.01,92.1 314.02,102.6 314.04,81.7 314.05,97.3 314.06,85.1 314.08,79.8 314.09,81.8 314.10,87.8 314.12,87.8 314.13,81.7 314.14,80.5 314.16,100.0 314.17,106.8 314.18,86.9 314.20,85.1 314.21,89.2 314.22,88.9 314.24,93.3 314.25,87.7 314.26,108.7 314.27,85.6 314.29,82.8 314.30,85.4 314.31,100.1 314.33,93.5 314.34,87.5 314.35,90.6 314.37,87.6 314.38,86.8 314.39,100.1 314.41,86.0 314.42,93.0 314.43,96.7 314.44,87.2 314.46,88.3 314.47,82.6 314.48,84.8 314.50,82.4 314.51,93.1 314.52,82.7 314.54,84.2 314.55,81.0 314.56,80.2 314.57,97.8 314.59,99.6 314.60,94.2 314.61,80.1 314.63,87.0 314.64,105.9 314.65,91.2 314.66,108.0 314.68,76.7 314.69,85.2 314.70,102.2 314.72,86.3 314.73,74.2 314.74,86.0 314.76,104.9 314.77,92.7 314.78,84.2 314.79,78.1 314.81,83.7 314.82,84.7 314.83,100.7 314.85,84.1 314.86,79.0 314.87,97.6 314.88,97.7 314.90,98.1 314.91,86.3 314.92,90.6 314.94,78.0 314.95,80.1 314.96,84.3 314.97,86.7 314.99,91.5 315.00,89.3 315.01,78.6 315.02,89.0 315.04,81.3 315.05,85.9 315.06,84.4 315.08,93.0 315.09,106.2 315.10,83.2 315.11,81.6 315.13,115.4 315.14,93.9 315.15,90.1 315.16,84.0 315.18,103.6 315.19,76.4 315.20,90.9 315.22,85.7 315.23,89.4 315.24,81.1 315.25,83.8 315.27,81.7 315.28,92.5 315.29,86.3 315.30,84.3 315.32,82.9 315.33,89.0 315.34,79.4 315.35,94.4 315.37,85.7 315.38,86.2 315.39,92.7 315.41,91.0 315.42,85.4 315.43,108.9 315.44,88.1 315.46,120.2 315.47,82.1 315.48,89.8 315.49,83.9 315.51,80.3 315.52,74.1 315.53,84.6 315.54,87.8 315.56,85.7 315.57,88.7 315.58,108.7 315.59,78.1 315.61,77.2 315.62,91.1 315.63,104.1 315.64,100.5 315.66,77.0 315.67,95.9 315.68,81.8 315.69,77.1 315.71,98.0 315.72,83.1 315.73,81.2 315.74,88.9 315.76,74.3 315.77,92.0 315.78,80.4 315.79,84.8 315.81,74.8 315.82,100.2 315.83,82.7 315.84,85.6 315.86,87.9 315.87,83.9 315.88,80.0 315.89,87.7 315.91,95.2 315.92,88.0 315.93,96.0 315.94,106.4 315.95,88.5 315.97,82.3 315.98,77.6 315.99,79.6 316.00,84.4 316.02,81.2 316.03,80.7 316.04,77.5 316.05,98.7 316.07,84.9 316.08,87.2 316.09,92.9 316.10,87.4 316.12,78.3 316.13,85.3 316.14,73.8 316.15,81.7 316.16,79.6 316.18,82.1 316.19,84.0 316.20,81.3 316.21,81.0 316.23,94.1 316.24,91.9 316.25,80.7 316.26,81.7 316.27,101.1 316.29,92.7 316.30,99.7 316.31,74.8 316.32,84.3 316.34,84.1 316.35,83.9 316.36,75.6 316.37,81.3 316.38,81.2 316.40,80.7 316.41,92.8 316.42,94.2 316.43,81.7 316.45,92.0 316.46,94.2 316.47,81.4 316.48,78.0 316.49,79.5 316.51,76.1 316.52,89.9 316.53,78.1 316.54,78.4 316.56,100.3 316.57,97.3 316.58,90.6 316.59,80.0 316.60,84.2 316.62,83.7 316.63,81.9 316.64,87.1 316.65,81.6 316.66,99.0 316.68,90.4 316.69,80.8 316.70,89.6 316.71,79.8 316.72,105.4 316.74,83.9 316.75,76.6 316.76,80.3 316.77,80.8 316.78,72.6 316.80,84.9 316.81,75.7 316.82,94.1 316.83,87.3 316.84,81.5 316.86,79.6 316.87,76.1 316.88,87.5 316.89,92.5 316.90,83.7 316.92,92.1 316.93,87.6 316.94,95.9 316.95,78.5 316.96,84.3 316.98,78.3 316.99,83.8 317.00,89.8 317.01,79.7 317.02,97.5 317.04,91.2 317.05,76.9 317.06,82.6 317.07,77.9 317.08,81.4 317.10,98.5 317.11,87.9 317.12,76.5 317.13,85.0 317.14,78.0 317.16,83.6 317.17,97.0 317.18,77.5 317.19,86.9 317.20,73.7 317.21,85.5 317.23,89.6 317.24,88.1 317.25,82.0 317.26,110.6 317.27,88.0 317.29,77.5 317.30,83.9 317.31,77.7 317.32,73.4 317.33,90.7 317.34,77.5 317.36,93.2 317.37,117.2 317.38,80.8 317.39,92.7 317.40,72.8 317.42,79.4 317.43,115.4 317.44,84.6 317.45,90.6 317.46,79.0 317.47,87.0 317.49,76.2 317.50,79.9 317.51,76.3 317.52,86.5 317.53,96.1 317.54,90.8 317.56,98.1 317.57,102.2 317.58,88.7 317.59,86.3 317.60,93.3 317.61,90.0 317.63,100.9 317.64,96.9 317.65,95.0 317.66,117.1 317.67,96.2 317.68,103.0 317.70,94.7 317.71,123.8 317.72,87.8 317.73,82.3 317.74,92.4 317.75,87.6 317.77,90.6 317.78,85.6 317.79,91.0 317.80,110.7 317.81,79.8 317.82,112.0 317.84,86.9 317.85,85.4 317.86,107.1 317.87,95.7 317.88,94.6 317.89,90.7 317.91,85.7 317.92,93.5 317.93,85.0 317.94,84.4 317.95,84.0 317.96,85.6 317.98,93.9 317.99,103.1 318.00,83.7 318.01,93.0 318.02,86.2 318.03,102.4 318.04,113.7 318.06,88.7 318.07,81.2 318.08,97.1 318.09,88.1 318.10,88.8 318.11,97.0 318.12,110.0 318.14,81.7 318.15,96.1 318.16,82.3 318.17,110.6 318.18,89.9 318.19,100.4 318.21,94.6 318.22,88.5 318.23,94.9 318.24,86.7 318.25,90.2 318.26,99.6 318.27,107.7 318.29,102.4 318.30,86.1 318.31,104.5 318.32,86.6 318.33,85.0 318.34,106.7 318.35,87.7 318.37,99.1 318.38,105.3 318.39,88.6 318.40,104.1 318.41,88.0 318.42,93.8 318.43,106.8 318.44,85.7 318.46,100.1 318.47,96.0 318.48,88.3 318.49,84.5 318.50,98.0 318.51,93.0 318.52,102.8 318.54,90.2 318.55,88.3 318.56,84.0 318.57,94.6 318.58,80.4 318.59,102.3 318.60,99.6 318.61,90.9 318.63,118.9 318.64,89.2 318.65,94.0 318.66,92.3 318.67,111.9 318.68,96.2 318.69,89.5 318.71,88.4 318.72,92.3 318.73,87.7 318.74,79.7 318.75,94.6 318.76,107.2 318.77,79.6 318.78,102.0 318.80,84.6 318.81,89.9 318.82,101.9 318.83,87.5 318.84,81.1 318.85,90.8 318.86,92.5 318.87,83.0 318.88,87.7 318.90,89.7 318.91,87.5 318.92,97.3 318.93,95.1 318.94,104.8 318.95,88.2 318.96,93.1 318.97,88.0 318.99,96.3 319.00,101.8 319.01,99.7 319.02,81.6 319.03,84.9 319.04,86.3 319.05,84.8 319.06,95.3 319.07,93.7 319.09,109.8 319.10,88.5 319.11,85.4 319.12,97.1 319.13,82.0 319.14,103.6 319.15,94.8 319.16,92.4 319.17,85.9 319.19,85.0 319.20,101.3 319.21,87.1 319.22,76.9 319.23,99.0 319.24,88.0 319.25,95.6 319.26,87.5 319.27,96.3 319.29,87.5 319.30,102.7 319.31,95.7 319.32,87.1 319.33,94.8 319.34,82.4 319.35,91.3 319.36,91.1 319.37,90.9 319.38,94.8 319.40,90.2 319.41,87.4 319.42,93.0 319.43,91.9 319.44,98.1 319.45,103.8 319.46,85.1 319.47,94.2 319.48,93.8 319.49,93.5 319.51,93.4 319.52,92.8 319.53,111.4 319.54,101.4 319.55,97.2 319.56,99.6 319.57,104.4 319.58,96.2 319.59,108.9 319.60,105.9 319.62,101.1 319.63,107.7 319.64,91.2 319.65,88.9 319.66,124.3 319.67,103.8 319.68,90.2 319.69,92.5 319.70,108.0 319.71,113.3 319.72,106.3 319.74,93.8 319.75,96.1 319.76,103.2 319.77,102.7 319.78,110.6 319.79,97.6 319.80,104.6 319.81,110.5 319.82,107.9 319.83,90.8 319.84,121.3 319.85,93.6 319.87,93.2 319.88,97.7 319.89,105.7 319.90,100.5 319.91,97.8 319.92,100.5 319.93,121.7 319.94,109.0 319.95,103.6 319.96,109.9 319.97,99.0 319.98,101.1 320.00,90.2 320.01,104.8 320.02,103.0 320.03,91.1 320.04,95.3 320.05,111.4 320.06,96.3 320.07,110.0 320.08,98.3 320.09,87.7 320.10,103.6 320.11,95.0 320.12,97.2 320.13,91.8 320.15,106.0 320.16,100.8 320.17,96.8 320.18,104.3 320.19,106.6 320.20,99.3 320.21,96.1 320.22,97.5 320.23,109.3 320.24,99.9 320.25,100.9 320.26,93.1 320.27,108.1 320.28,104.8 320.30,91.6 320.31,104.5 320.32,110.9 320.33,106.0 320.34,106.6 320.35,107.0 320.36,93.0 320.37,109.2 320.38,119.4 320.39,94.8 320.40,101.8 320.41,99.8 320.42,102.1 320.43,100.4 320.44,99.4 320.46,102.2 320.47,121.5 320.48,104.0 320.49,113.8 320.50,102.6 320.51,104.4 320.52,96.1 320.53,113.7 320.54,114.8 320.55,115.5 320.56,101.7 320.57,116.6 320.58,116.0 320.59,101.3 320.60,118.7 320.61,124.8 320.62,116.6 320.64,106.2 320.65,122.1 320.66,107.2 320.67,114.2 320.68,101.5 320.69,109.6 320.70,96.7 320.71,109.1 320.72,116.1 320.73,108.0 320.74,110.6 320.75,113.8 320.76,95.1 320.77,100.6 320.78,102.1 320.79,102.1 320.80,118.8 320.81,114.8 320.82,122.5 320.84,103.0 320.85,99.5 320.86,114.4 320.87,111.9 320.88,115.1 320.89,109.2 320.90,111.1 320.91,110.1 320.92,109.0 320.93,111.9 320.94,115.3 320.95,105.0 320.96,110.7 320.97,121.4 320.98,105.2 320.99,115.3 321.00,108.7 321.01,115.8 321.02,104.7 321.03,105.0 321.04,115.8 321.05,117.5 321.06,119.1 321.08,113.1 321.09,113.0 321.10,115.1 321.11,116.5 321.12,117.3 321.13,136.2 321.14,119.3 321.15,114.1 321.16,123.9 321.17,101.8 321.18,123.1 321.19,120.7 321.20,116.2 321.21,136.6 321.22,124.8 321.23,118.1 321.24,122.2 321.25,110.1 321.26,119.7 321.27,133.6 321.28,123.0 321.29,120.5 321.30,117.4 321.31,124.3 321.32,138.2 321.33,120.4 321.34,122.4 321.35,122.3 321.36,130.3 321.38,129.3 321.39,129.5 321.40,124.4 321.41,140.3 321.42,137.8 321.43,119.6 321.44,125.7 321.45,133.7 321.46,129.6 321.47,126.0 321.48,150.0 321.49,137.2 321.50,146.9 321.51,128.5 321.52,132.2 321.53,141.0 321.54,117.7 321.55,149.3 321.56,126.2 321.57,131.9 321.58,125.9 321.59,123.5 321.60,153.7 321.61,126.2 321.62,134.7 321.63,123.6 321.64,128.2 321.65,135.9 321.66,130.7 321.67,135.2 321.68,129.6 321.69,153.3 321.70,139.4 321.71,142.7 321.72,128.3 321.73,147.0 321.74,139.1 321.75,152.7 321.76,137.7 321.77,134.6 321.78,123.1 321.79,141.3 321.80,134.6 321.81,139.1 321.82,136.8 321.83,134.7 321.84,143.7 321.85,161.1 321.86,131.8 321.88,138.9 321.89,150.6 321.90,135.9 321.91,134.1 321.92,166.0 321.93,138.6 321.94,143.8 321.95,130.1 321.96,153.0 321.97,134.3 321.98,148.1 321.99,129.5 322.00,135.0 322.01,138.3 322.02,145.9 322.03,137.7 322.04,134.2 322.05,151.7 322.06,144.4 322.07,147.2 322.08,139.5 322.09,136.4 322.10,170.6 321.30,178.0" stroke-width="0.5"/></g></defs>
<g transform="translate(0,0)">
<path class="gm" d="M91.89 12.5V186.5M103.82 12.5V186.5M112.29 12.5V186.5M118.86 12.5V186.5M124.22 12.5V186.5M128.76 12.5V186.5M132.68 12.5V186.5M136.15 12.5V186.5M159.64 12.5V186.5M171.57 12.5V186.5M180.04 12.5V186.5M186.61 12.5V186.5M191.97 12.5V186.5M196.51 12.5V186.5M200.43 12.5V186.5M203.90 12.5V186.5M227.39 12.5V186.5M239.32 12.5V186.5M247.79 12.5V186.5M254.36 12.5V186.5M259.72 12.5V186.5M264.26 12.5V186.5M268.18 12.5V186.5M271.65 12.5V186.5M295.14 12.5V186.5M307.07 12.5V186.5M315.54 12.5V186.5M322.11 12.5V186.5M327.47 12.5V186.5M332.01 12.5V186.5M335.93 12.5V186.5M339.40 12.5V186.5"/>
<path class="gM" d="M139.25 12.5V186.5M207.00 12.5V186.5M274.75 12.5V186.5M71.5 99.5H342.5"/>
<use href="#curve"/>
<path class="tk" d="M91.89 186.5v-2M91.89 12.5v2M103.82 186.5v-2M103.82 12.5v2M112.29 186.5v-2M112.29 12.5v2M118.86 186.5v-2M118.86 12.5v2M124.22 186.5v-2M124.22 12.5v2M128.76 186.5v-2M128.76 12.5v2M132.68 186.5v-2M132.68 12.5v2M136.15 186.5v-2M136.15 12.5v2M159.64 186.5v-2M159.64 12.5v2M171.57 186.5v-2M171.57 12.5v2M180.04 186.5v-2M180.04 12.5v2M186.61 186.5v-2M186.61 12.5v2M191.97 186.5v-2M191.97 12.5v2M196.51 186.5v-2M196.51 12.5v2M200.43 186.5v-2M200.43 12.5v2M203.90 186.5v-2M203.90 12.5v2M227.39 186.5v-2M227.39 12.5v2M239.32 186.5v-2M239.32 12.5v2M247.79 186.5v-2M247.79 12.5v2M254.36 186.5v-2M254.36 12.5v2M259.72 186.5v-2M259.72 12.5v2M264.26 186.5v-2M264.26 12.5v2M268.18 186.5v-2M268.18 12.5v2M271.65 186.5v-2M271.65 12.5v2M295.14 186.5v-2M295.14 12.5v2M307.07 186.5v-2M307.07 12.5v2M315.54 186.5v-2M315.54 12.5v2M322.11 186.5v-2M322.11 12.5v2M327.47 186.5v-2M327.47 12.5v2M332.01 186.5v-2M332.01 12.5v2M335.93 186.5v-2M335.93 12.5v2M339.40 186.5v-2M339.40 12.5v2M139.25 186.5v-3.5M139.25 12.5v3.5M207.00 186.5v-3.5M207.00 12.5v3.5M274.75 186.5v-3.5M274.75 12.5v3.5M71.5 99.5h3.5M342.5 99.5h-3.5"/>
<rect class="ax" x="71.5" y="12.5" width="271.0" height="174.0"/>
<text class="tl" transform="translate(47.43,18.80) scale(0.92,1.06)">10</text><text class="ts" x="61.62" y="12.70">0</text>
<text class="tl" transform="translate(44.26,105.60) scale(0.92,1.06)">10</text><text class="ts" x="58.45" y="99.50">-5</text>
<text class="tl" transform="translate(38.98,193.10) scale(0.92,1.06)">10</text><text class="ts" x="53.17" y="187.00">-10</text>
<text class="tl" transform="translate(60.18,207.40) scale(0.92,1.06)">10</text><text class="ts" x="74.37" y="201.30">-2</text>
<text class="tl" transform="translate(127.93,207.40) scale(0.92,1.06)">10</text><text class="ts" x="142.12" y="201.30">-1</text>
<text class="tl" transform="translate(197.26,207.40) scale(0.92,1.06)">10</text><text class="ts" x="211.45" y="201.30">0</text>
<text class="tl" transform="translate(265.01,207.40) scale(0.92,1.06)">10</text><text class="ts" x="279.20" y="201.30">1</text>
<text class="tl" transform="translate(332.76,207.40) scale(0.92,1.06)">10</text><text class="ts" x="346.95" y="201.30">2</text>
<text class="lb" transform="translate(207.0,226.9) scale(1,1.0)" text-anchor="middle">f [Hz]</text>
</g>
<g transform="translate(356.0,0)">
<path class="gm" d="M91.89 12.5V186.5M103.82 12.5V186.5M112.29 12.5V186.5M118.86 12.5V186.5M124.22 12.5V186.5M128.76 12.5V186.5M132.68 12.5V186.5M136.15 12.5V186.5M159.64 12.5V186.5M171.57 12.5V186.5M180.04 12.5V186.5M186.61 12.5V186.5M191.97 12.5V186.5M196.51 12.5V186.5M200.43 12.5V186.5M203.90 12.5V186.5M227.39 12.5V186.5M239.32 12.5V186.5M247.79 12.5V186.5M254.36 12.5V186.5M259.72 12.5V186.5M264.26 12.5V186.5M268.18 12.5V186.5M271.65 12.5V186.5M295.14 12.5V186.5M307.07 12.5V186.5M315.54 12.5V186.5M322.11 12.5V186.5M327.47 12.5V186.5M332.01 12.5V186.5M335.93 12.5V186.5M339.40 12.5V186.5"/>
<path class="gM" d="M139.25 12.5V186.5M207.00 12.5V186.5M274.75 12.5V186.5M71.5 99.5H342.5"/>
<use href="#curve"/>
<path class="tk" d="M91.89 186.5v-2M91.89 12.5v2M103.82 186.5v-2M103.82 12.5v2M112.29 186.5v-2M112.29 12.5v2M118.86 186.5v-2M118.86 12.5v2M124.22 186.5v-2M124.22 12.5v2M128.76 186.5v-2M128.76 12.5v2M132.68 186.5v-2M132.68 12.5v2M136.15 186.5v-2M136.15 12.5v2M159.64 186.5v-2M159.64 12.5v2M171.57 186.5v-2M171.57 12.5v2M180.04 186.5v-2M180.04 12.5v2M186.61 186.5v-2M186.61 12.5v2M191.97 186.5v-2M191.97 12.5v2M196.51 186.5v-2M196.51 12.5v2M200.43 186.5v-2M200.43 12.5v2M203.90 186.5v-2M203.90 12.5v2M227.39 186.5v-2M227.39 12.5v2M239.32 186.5v-2M239.32 12.5v2M247.79 186.5v-2M247.79 12.5v2M254.36 186.5v-2M254.36 12.5v2M259.72 186.5v-2M259.72 12.5v2M264.26 186.5v-2M264.26 12.5v2M268.18 186.5v-2M268.18 12.5v2M271.65 186.5v-2M271.65 12.5v2M295.14 186.5v-2M295.14 12.5v2M307.07 186.5v-2M307.07 12.5v2M315.54 186.5v-2M315.54 12.5v2M322.11 186.5v-2M322.11 12.5v2M327.47 186.5v-2M327.47 12.5v2M332.01 186.5v-2M332.01 12.5v2M335.93 186.5v-2M335.93 12.5v2M339.40 186.5v-2M339.40 12.5v2M139.25 186.5v-3.5M139.25 12.5v3.5M207.00 186.5v-3.5M207.00 12.5v3.5M274.75 186.5v-3.5M274.75 12.5v3.5M71.5 99.5h3.5M342.5 99.5h-3.5"/>
<rect class="ax" x="71.5" y="12.5" width="271.0" height="174.0"/>
<text class="tl" transform="translate(47.43,18.80) scale(0.92,1.06)">10</text><text class="ts" x="61.62" y="12.70">0</text>
<text class="tl" transform="translate(44.26,105.60) scale(0.92,1.06)">10</text><text class="ts" x="58.45" y="99.50">-5</text>
<text class="tl" transform="translate(38.98,193.10) scale(0.92,1.06)">10</text><text class="ts" x="53.17" y="187.00">-10</text>
<text class="tl" transform="translate(60.18,207.40) scale(0.92,1.06)">10</text><text class="ts" x="74.37" y="201.30">-2</text>
<text class="tl" transform="translate(127.93,207.40) scale(0.92,1.06)">10</text><text class="ts" x="142.12" y="201.30">-1</text>
<text class="tl" transform="translate(197.26,207.40) scale(0.92,1.06)">10</text><text class="ts" x="211.45" y="201.30">0</text>
<text class="tl" transform="translate(265.01,207.40) scale(0.92,1.06)">10</text><text class="ts" x="279.20" y="201.30">1</text>
<text class="tl" transform="translate(332.76,207.40) scale(0.92,1.06)">10</text><text class="ts" x="346.95" y="201.30">2</text>
<text class="lb" transform="translate(207.0,226.9) scale(1,1.0)" text-anchor="middle">f [Hz]</text>
</g>
<g transform="translate(26.3,148.94) rotate(-90) scale(1,1.0)"><text class="lb" letter-spacing="0.33"><tspan x="0.00" y="0">S</tspan><tspan x="9.17" y="-7.30" font-size="10.0" letter-spacing="0.6">HN</tspan><tspan x="9.17" y="6.60" font-size="10.0" letter-spacing="0.6">EW</tspan><tspan x="26.48" y="0">(f) [m</tspan><tspan x="58.78" y="-6.50" font-size="10.0">2</tspan><tspan x="64.34" y="0">/sec</tspan><tspan x="89.51" y="-6.50" font-size="10.0">3</tspan><tspan x="95.07" y="0">]</tspan></text></g>
<g transform="translate(382.3,148.10) rotate(-90) scale(1,1.0)"><text class="lb" letter-spacing="0.33"><tspan x="0.00" y="0">S</tspan><tspan x="9.17" y="-7.30" font-size="10.0" letter-spacing="0.6">HN</tspan><tspan x="9.17" y="6.60" font-size="10.0" letter-spacing="0.6">NS</tspan><tspan x="24.81" y="0">(f) [m</tspan><tspan x="57.11" y="-6.50" font-size="10.0">2</tspan><tspan x="62.67" y="0">/sec</tspan><tspan x="87.84" y="-6.50" font-size="10.0">3</tspan><tspan x="93.40" y="0">]</tspan></text></g>
<text x="366.3" y="251" text-anchor="middle" style="font-family:'Liberation Serif',serif;font-size:18px;fill:#111;stroke:none">(<tspan style="font-weight:bold">a</tspan>)</text>
</svg>
</body></html>
